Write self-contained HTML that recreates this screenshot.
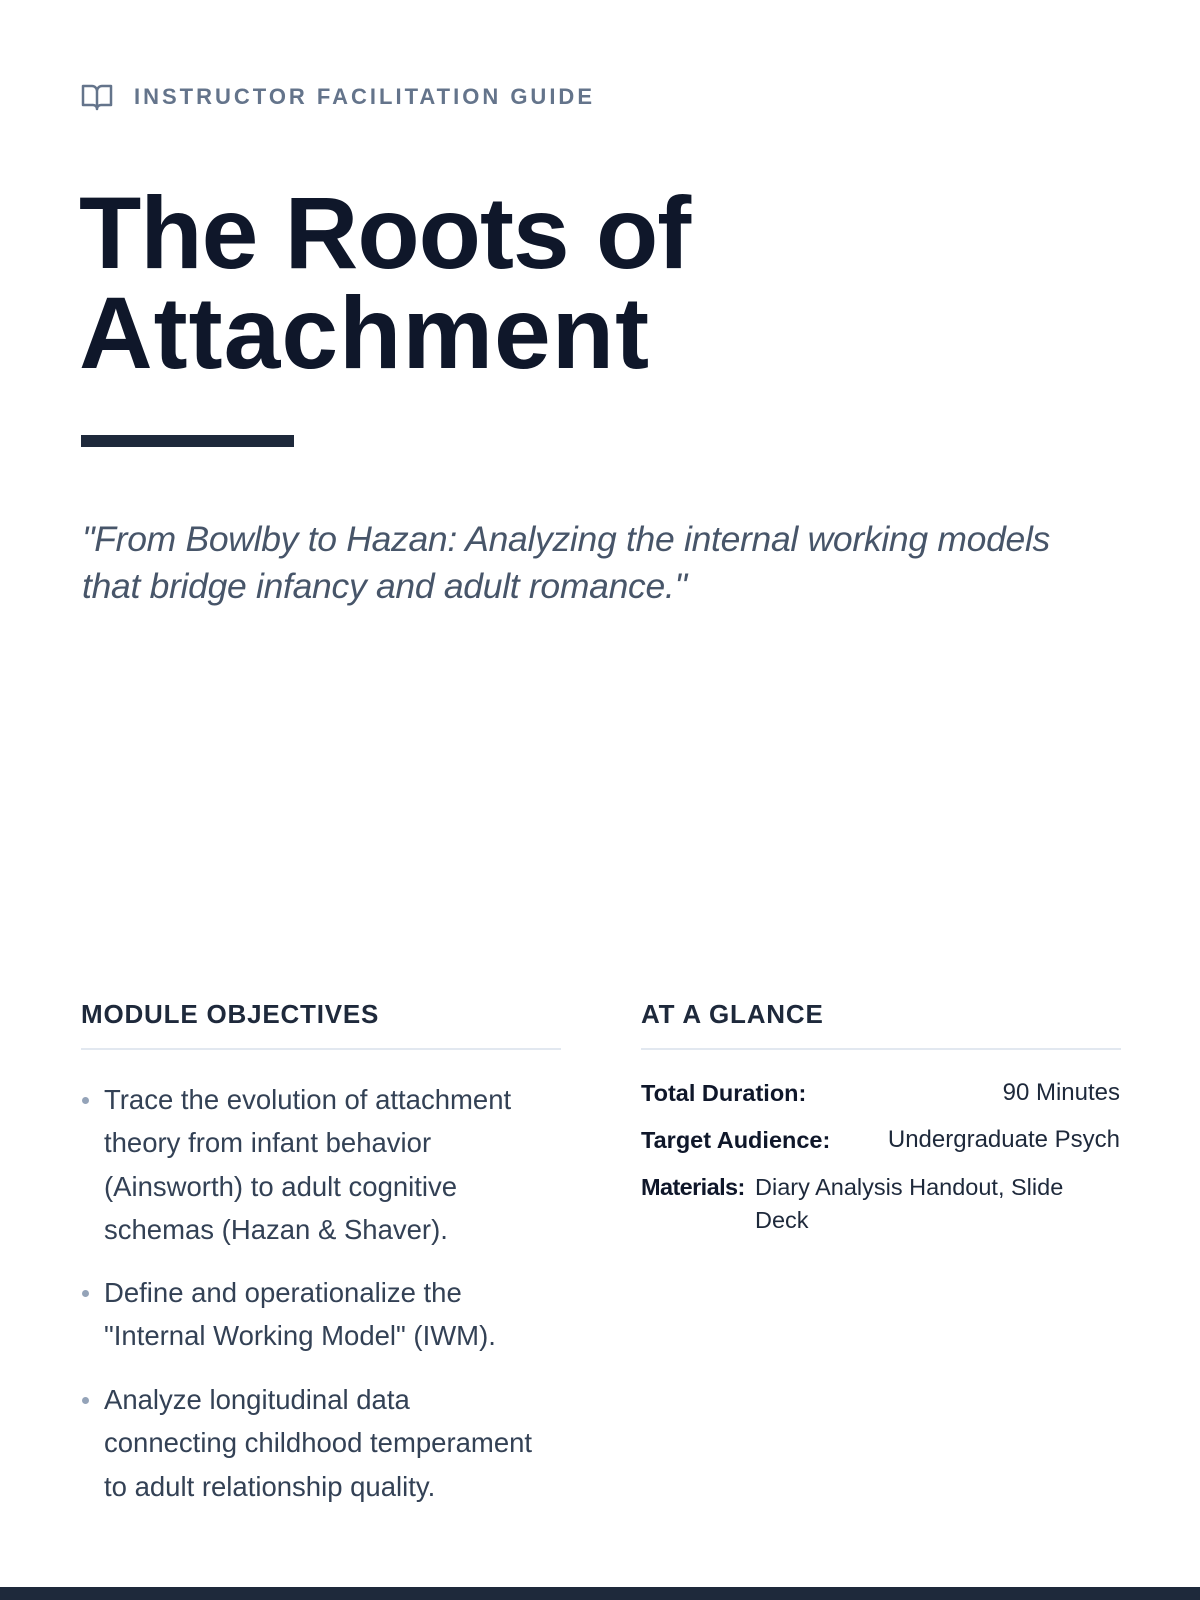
<!DOCTYPE html>
<html><head><meta charset="utf-8"><style>
*{margin:0;padding:0;box-sizing:border-box}
body{width:1200px;height:1600px;background:#fff;position:relative;overflow:hidden;font-family:"Liberation Sans",sans-serif}
.a{position:absolute;white-space:nowrap}
</style></head><body>
<svg class="a" style="left:81px;top:83px" width="32" height="28" viewBox="0 0 32 28"><path d="M2 3h9a5 5 0 0 1 5 5v18a4 4 0 0 0-4-4H2z M30 3h-9a5 5 0 0 0-5 5v18a4 4 0 0 1 4-4h10z" fill="none" stroke="#64748b" stroke-width="2.5" stroke-linejoin="round"/></svg>
<div class="a" style="left:134px;top:84px;font-size:22px;font-weight:bold;letter-spacing:3px;color:#64748b;line-height:26px">INSTRUCTOR FACILITATION GUIDE</div>
<div class="a" style="left:79px;top:183px;font-size:102px;font-weight:bold;color:#0f172a;line-height:100px;letter-spacing:-1px">The Roots of<br><span style="letter-spacing:1px">Attachment</span></div>
<div class="a" style="left:81px;top:435px;width:213px;height:12px;background:#1e293b"></div>
<div class="a" style="left:82px;top:516px;font-size:35.5px;font-style:italic;color:#475569;line-height:47px;letter-spacing:-0.3px">"From Bowlby to Hazan: Analyzing the internal working models<br>that bridge infancy and adult romance."</div>
<div class="a" style="left:81px;top:999px;font-size:26px;font-weight:bold;color:#1e293b;line-height:30px;letter-spacing:0.8px">MODULE OBJECTIVES</div>
<div class="a" style="left:81px;top:1048px;width:480px;height:2px;background:#e2e8f0"></div>
<div class="a" style="left:641px;top:999px;font-size:26px;font-weight:bold;color:#1e293b;line-height:30px;letter-spacing:0.8px">AT A GLANCE</div>
<div class="a" style="left:641px;top:1048px;width:480px;height:2px;background:#e2e8f0"></div>
<div class="a" style="left:104px;top:1078px;font-size:27.5px;color:#334155;line-height:43.4px">Trace the evolution of attachment<br>theory from infant behavior<br>(Ainsworth) to adult cognitive<br>schemas (Hazan &amp; Shaver).</div>
<div class="a" style="left:104px;top:1271px;font-size:27.5px;color:#334155;line-height:43.4px">Define and operationalize the<br>"Internal Working Model" (IWM).</div>
<div class="a" style="left:104px;top:1378px;font-size:27.5px;color:#334155;line-height:43.4px">Analyze longitudinal data<br>connecting childhood temperament<br>to adult relationship quality.</div>
<div class="a" style="left:82px;top:1097px;width:7px;height:7px;border-radius:50%;background:#94a3b8"></div>
<div class="a" style="left:82px;top:1290px;width:7px;height:7px;border-radius:50%;background:#94a3b8"></div>
<div class="a" style="left:82px;top:1397px;width:7px;height:7px;border-radius:50%;background:#94a3b8"></div>
<div class="a" style="left:641px;top:1080px;font-size:23.5px;font-weight:bold;color:#0f172a;line-height:26px">Total Duration:</div>
<div class="a" style="right:80px;top:1080px;font-size:24px;color:#1e293b;line-height:26px">90 Minutes</div>
<div class="a" style="left:641px;top:1127px;font-size:23.5px;font-weight:bold;color:#0f172a;line-height:26px">Target Audience:</div>
<div class="a" style="right:80px;top:1127px;font-size:24px;color:#1e293b;line-height:26px">Undergraduate Psych</div>
<div class="a" style="left:641px;top:1174px;font-size:23.5px;font-weight:bold;color:#0f172a;line-height:26px;letter-spacing:-0.6px">Materials:</div>
<div class="a" style="left:755px;top:1174px;font-size:23.5px;color:#1e293b;line-height:33px;margin-top:-3px">Diary Analysis Handout, Slide<br>Deck</div>
<div class="a" style="left:0;top:1587px;width:1200px;height:13px;background:#1e293b"></div>
</body></html>
